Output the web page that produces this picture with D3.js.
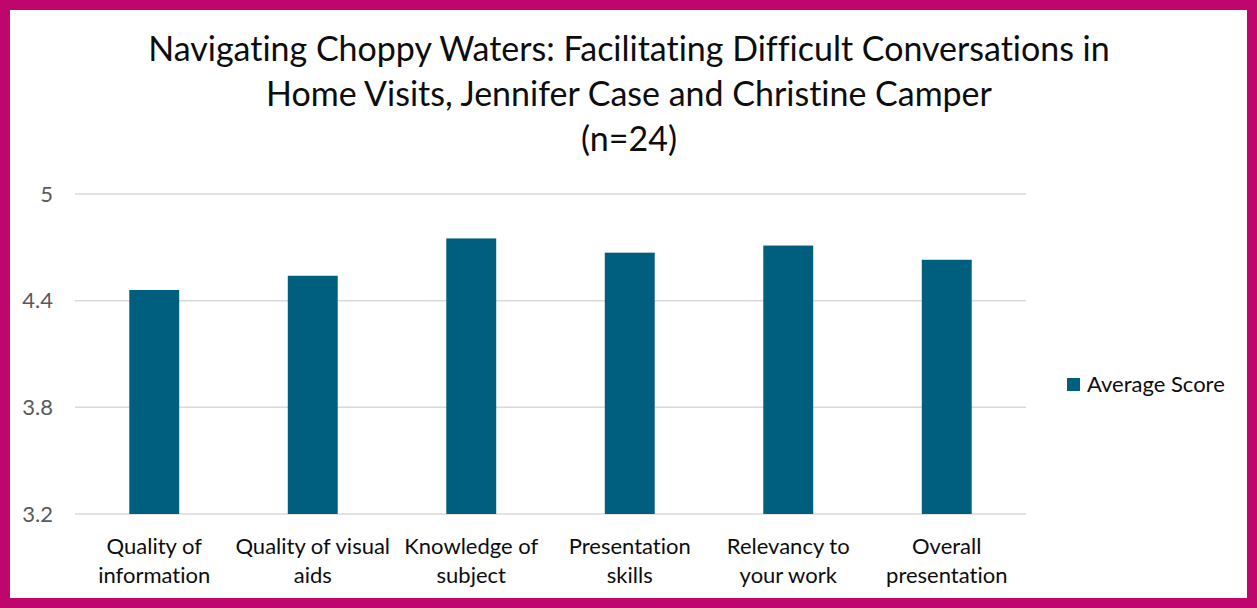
<!DOCTYPE html>
<html>
<head>
<meta charset="utf-8">
<script src="https://cdn.jsdelivr.net/npm/d3@7"></script>
<style>
  html, body { margin: 0; padding: 0; background: #fff; }
  svg { display: block; font-variant-ligatures: none; }
</style>
</head>
<body>
<script>
// chart data
const categories = [
  ["Quality of", "information"],
  ["Quality of visual", "aids"],
  ["Knowledge of", "subject"],
  ["Presentation", "skills"],
  ["Relevancy to", "your work"],
  ["Overall", "presentation"]
];
const averageScore = [4.46, 4.54, 4.75, 4.67, 4.71, 4.63];
const yTicks = [3.2, 3.8, 4.4, 5];
const titleLines = [
  "Navigating Choppy Waters: Facilitating Difficult Conversations in",
  "Home Visits, Jennifer Case and Christine Camper",
  "(n=24)"
];
const seriesName = "Average Score";

const w = 1257;
const h = 608;
const font = "Lato, 'Open Sans', sans-serif";
const barColor = "#005f7f";

const svg = d3.select("body")
              .append("svg")
              .attr("width", w)
              .attr("height", h);

// magenta frame
svg.append("rect")
   .attr("x", 5).attr("y", 5)
   .attr("width", w - 10).attr("height", h - 10)
   .attr("fill", "#fff")
   .attr("stroke", "#bf056e")
   .attr("stroke-width", 10);

// title
const title = svg.append("g").attr("font-family", font).attr("fill", "#0d0d0d");
title.selectAll("text")
     .data(titleLines)
     .enter()
     .append("text")
     .attr("x", 629)
     .attr("y", (d, i) => 61 + i * 45)
     .attr("text-anchor", "middle")
     .style("font-size", "31px")
     .text(d => d);
// fit first line to the reference width
const first = title.select("text").node();
const len = first.getComputedTextLength();
const fs = 31 * 962 / len;
title.selectAll("text").style("font-size", fs + "px");

const x = d3.scaleBand()
            .domain(d3.range(categories.length))
            .range([75, 1026])
            .paddingInner(0.685)
            .paddingOuter(0.3425);

const y = d3.scaleLinear()
            .domain([3.2, 5])
            .range([514, 194]);

// gridlines
svg.append("g")
   .selectAll("line")
   .data(yTicks)
   .enter()
   .append("line")
   .attr("x1", 75).attr("x2", 1026)
   .attr("y1", d => y(d)).attr("y2", d => y(d))
   .attr("stroke", "#d9d9d9")
   .attr("stroke-width", 1.5);

// y axis labels
const yAxis = d3.axisLeft(y).tickValues(yTicks).tickSize(0).tickPadding(0).tickFormat(d => d);
svg.append("g")
   .attr("transform", "translate(53,0)")
   .call(yAxis)
   .call(g => g.select(".domain").remove())
   .call(g => g.selectAll("text")
               .attr("fill", "#595959")
               .style("font-family", font)
               .style("font-size", "22px"));

// bars
svg.append("g")
   .selectAll("rect")
   .data(averageScore)
   .enter()
   .append("rect")
   .attr("x", (d, i) => x(i))
   .attr("y", d => y(d))
   .attr("width", x.bandwidth())
   .attr("height", d => y(3.2) - y(d))
   .attr("fill", barColor);

// category labels
const cat = svg.append("g")
               .selectAll("text")
               .data(categories)
               .enter()
               .append("text")
               .attr("x", (d, i) => x(i) + x.bandwidth() / 2)
               .attr("y", 554)
               .attr("text-anchor", "middle")
               .attr("fill", "#0d0d0d")
               .style("font-family", font)
               .style("font-size", "22px");
cat.append("tspan").text(d => d[0]);
cat.append("tspan")
   .attr("x", (d, i) => x(i) + x.bandwidth() / 2)
   .attr("dy", 29)
   .text(d => d[1]);

// legend
const legend = svg.append("g").attr("transform", "translate(1067,378)");
legend.append("rect")
      .attr("width", 13).attr("height", 13)
      .attr("fill", barColor);
legend.append("text")
      .attr("x", 20).attr("y", 14)
      .attr("fill", "#0d0d0d")
      .style("font-family", font)
      .style("font-size", "22px")
      .text(seriesName);
</script>
</body>
</html>
